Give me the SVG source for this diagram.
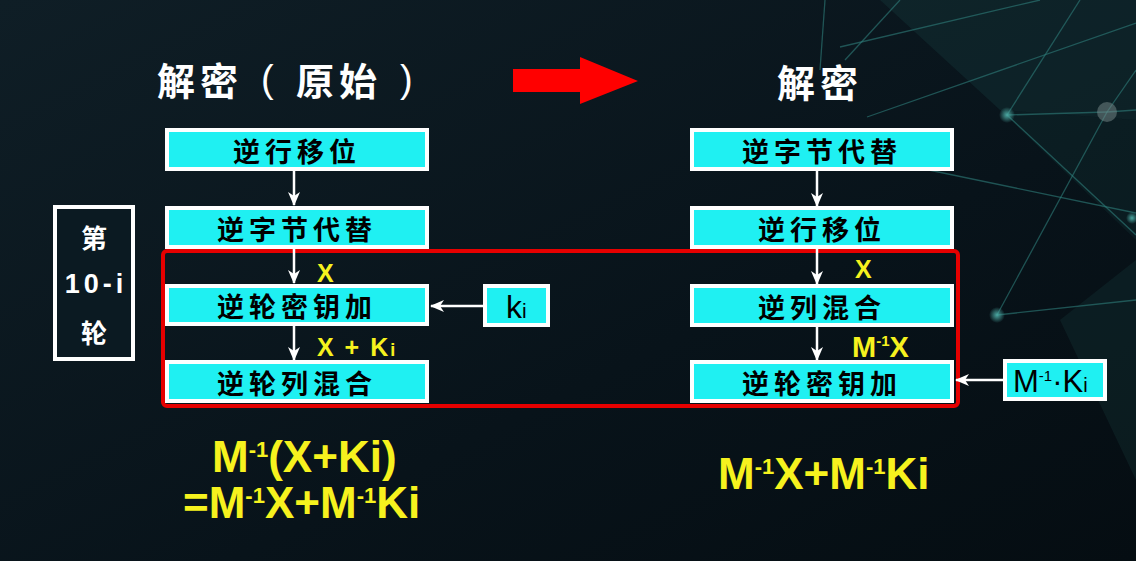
<svg xmlns="http://www.w3.org/2000/svg" width="1136" height="561" viewBox="0 0 1136 561">
<defs>
<linearGradient id="bg" x1="0" y1="0" x2="1" y2="1">
<stop offset="0" stop-color="#0f1e26"/>
<stop offset="0.6" stop-color="#08131a"/>
<stop offset="1" stop-color="#050d12"/>
</linearGradient>
<radialGradient id="dot" cx="0.5" cy="0.5" r="0.5">
<stop offset="0" stop-color="#4aa6a0"/>
<stop offset="1" stop-color="#4aa6a0" stop-opacity="0"/>
</radialGradient>
<marker id="ah" viewBox="0 0 14 12" refX="13" refY="6" markerWidth="14" markerHeight="12" markerUnits="userSpaceOnUse" orient="auto">
<path d="M0,0 L14,6 L0,12 L4,6 Z" fill="#ffffff"/>
</marker>
<style>
.box{fill:#1ff0f2;stroke:#ffffff;stroke-width:4}
.bt{font-family:"Noto Sans CJK SC","Liberation Sans",sans-serif;font-weight:bold;font-size:27px;fill:#000;letter-spacing:5px;text-anchor:middle;dominant-baseline:central}
.title{font-family:"Noto Sans CJK SC","Liberation Sans",sans-serif;font-weight:bold;font-size:38px;fill:#fff;letter-spacing:5px;dominant-baseline:central}
.paren{font-family:"Liberation Sans",Arial,sans-serif;font-size:38px;fill:#fff}
.lbl{font-family:"Liberation Sans",Arial,sans-serif;font-weight:bold;fill:#f6f21e}
.formula{font-family:"Liberation Sans",Arial,sans-serif;font-weight:bold;font-size:44px;fill:#f6f21e}
.con{stroke:#ffffff;stroke-width:2.5;fill:none;marker-end:url(#ah)}
.net{stroke:#2f7f7c;stroke-width:1.3;fill:none;opacity:0.6}
</style>
</defs>
<rect width="1136" height="561" fill="url(#bg)"/>
<g id="background-network">
<polygon points="880,0 1136,0 1136,120 1000,110" fill="#1c4a4a" opacity="0.25"/>
<polygon points="1000,110 1136,120 1136,240" fill="#153a3c" opacity="0.25"/>
<polygon points="1060,320 1136,260 1136,480" fill="#163a3c" opacity="0.3"/>
<line class="net" x1="840" y1="47" x2="1040" y2="0"/>
<line class="net" x1="867" y1="117" x2="1136" y2="23"/>
<line class="net" x1="1007" y1="115" x2="1080" y2="0"/>
<line class="net" x1="1007" y1="115" x2="1107" y2="112"/>
<line class="net" x1="1107" y1="112" x2="1136" y2="110"/>
<line class="net" x1="1007" y1="115" x2="1136" y2="235"/>
<line class="net" x1="895" y1="163" x2="1136" y2="213"/>
<line class="net" x1="997" y1="315" x2="1107" y2="112"/>
<line class="net" x1="1107" y1="112" x2="1136" y2="70"/>
<line class="net" x1="825" y1="0" x2="820" y2="70"/>
<line class="net" x1="845" y1="60" x2="900" y2="0"/>
<line class="net" x1="997" y1="315" x2="1136" y2="300"/>
<circle cx="1007" cy="115" r="8" fill="url(#dot)"/>
<circle cx="1107" cy="112" r="10" fill="#7a8c8c" opacity="0.5"/>
<circle cx="895" cy="163" r="7" fill="url(#dot)"/>
<circle cx="997" cy="315" r="8" fill="url(#dot)"/>
<circle cx="1132" cy="218" r="6" fill="url(#dot)"/>
</g>
<g id="titles">
<text class="title" x="157" y="78">解密</text>
<text class="paren" x="261" y="92">(</text>
<text class="title" x="296" y="78">原始</text>
<text class="paren" x="400" y="92">)</text>
<text class="title" x="777" y="80">解密</text>
<path d="M513,69 H580 V57 L638,81 L580,104 V92 H513 Z" fill="#ff0000"/>
</g>
<g id="round-group">
<rect x="163" y="251" width="795" height="155" rx="4" fill="none" stroke="#e60000" stroke-width="4"/>
</g>
<g id="round-label">
<rect x="55" y="207" width="78" height="152" fill="#0b1a22" stroke="#ffffff" stroke-width="4"/>
<text class="bt" x="94" y="236" style="fill:#fff;font-size:26px;letter-spacing:0">第</text>
<text x="96" y="293" text-anchor="middle" style="font-family:'Liberation Sans',Arial,sans-serif;font-weight:bold;font-size:27px;fill:#fff;letter-spacing:4px">10-i</text>
<text class="bt" x="94" y="331" style="fill:#fff;font-size:26px;letter-spacing:0">轮</text>
</g>
<g id="connectors">
<line class="con" x1="294" y1="171" x2="294" y2="205"/>
<line class="con" x1="294" y1="249" x2="294" y2="283"/>
<line class="con" x1="294" y1="326" x2="294" y2="360"/>
<line class="con" x1="817" y1="171" x2="817" y2="206"/>
<line class="con" x1="817" y1="249" x2="817" y2="284"/>
<line class="con" x1="817" y1="327" x2="817" y2="360"/>
<line class="con" x1="483" y1="306" x2="431" y2="306"/>
<line class="con" x1="1003" y1="380" x2="956" y2="380"/>
</g>
<g id="L1"><rect class="box" x="167" y="130" width="260" height="39"/><text class="bt" x="297" y="150">逆行移位</text></g>
<g id="L2"><rect class="box" x="167" y="208" width="260" height="39"/><text class="bt" x="297" y="228">逆字节代替</text></g>
<g id="L3"><rect class="box" x="167" y="286" width="260" height="38"/><text class="bt" x="297" y="305">逆轮密钥加</text></g>
<g id="L4"><rect class="box" x="167" y="362" width="260" height="39"/><text class="bt" x="297" y="382">逆轮列混合</text></g>
<g id="R1"><rect class="box" x="692" y="130" width="260" height="39"/><text class="bt" x="822" y="150">逆字节代替</text></g>
<g id="R2"><rect class="box" x="692" y="208" width="260" height="39"/><text class="bt" x="822" y="228">逆行移位</text></g>
<g id="R3"><rect class="box" x="692" y="286" width="260" height="39"/><text class="bt" x="822" y="306">逆列混合</text></g>
<g id="R4"><rect class="box" x="692" y="362" width="260" height="39"/><text class="bt" x="822" y="382">逆轮密钥加</text></g>
<g id="ki">
<rect class="box" x="485" y="286" width="63" height="39"/>
<text x="506" y="318" style="font-family:'Liberation Sans',Arial,sans-serif;font-size:32px;fill:#000">k<tspan font-size="21">i</tspan></text>
</g>
<g id="M1Ki">
<rect class="box" x="1005" y="361" width="100" height="38"/>
<text x="1013" y="392" style="font-family:'Liberation Sans',Arial,sans-serif;font-size:31px;fill:#000">M<tspan font-size="15" dy="-11">-1</tspan><tspan dy="11">·K</tspan><tspan font-size="20">i</tspan></text>
</g>
<g id="labels">
<text class="lbl" x="317" y="282" font-size="25">X</text>
<text class="lbl" x="317" y="356" font-size="25" letter-spacing="2">X + K<tspan font-size="18">i</tspan></text>
<text class="lbl" x="855" y="278" font-size="25">X</text>
<text class="lbl" x="852" y="357" font-size="29">M<tspan font-size="15" dy="-11">-1</tspan><tspan dy="11">X</tspan></text>
</g>
<g id="formulas">
<text class="formula" x="212" y="472">M<tspan font-size="22" dy="-15">-1</tspan><tspan dy="15">(X+Ki)</tspan></text>
<text class="formula" x="183" y="518">=M<tspan font-size="22" dy="-15">-1</tspan><tspan dy="15">X+M</tspan><tspan font-size="22" dy="-15">-1</tspan><tspan dy="15">Ki</tspan></text>
<text class="formula" x="718" y="489">M<tspan font-size="22" dy="-15">-1</tspan><tspan dy="15">X+M</tspan><tspan font-size="22" dy="-15">-1</tspan><tspan dy="15">Ki</tspan></text>
</g>
</svg>
